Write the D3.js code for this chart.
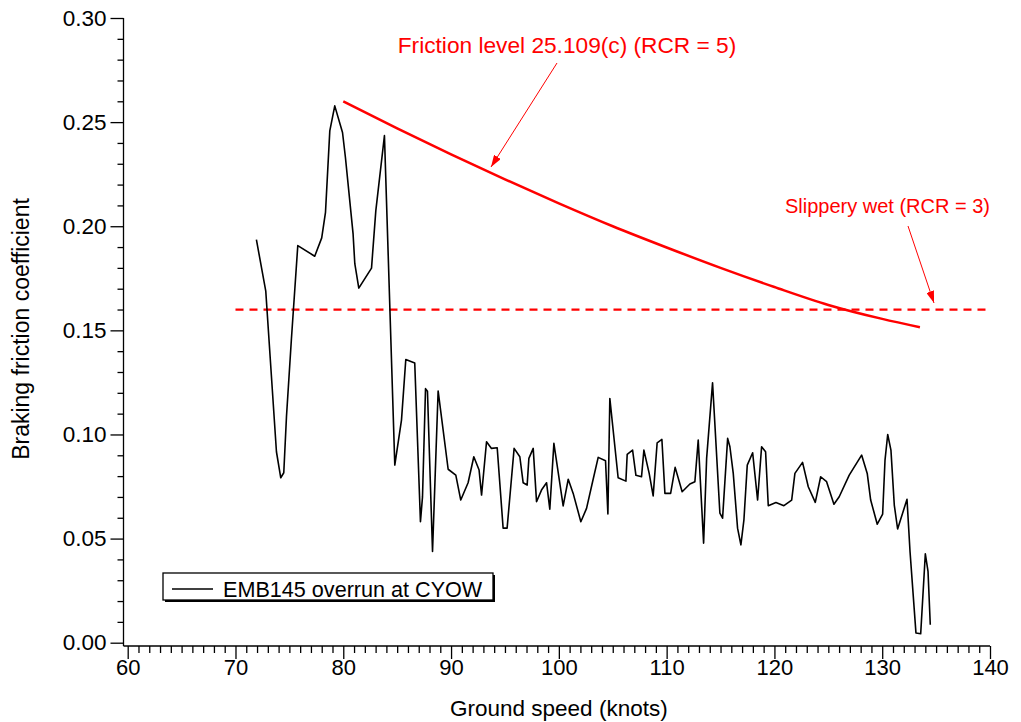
<!DOCTYPE html>
<html>
<head>
<meta charset="utf-8">
<script src="https://cdn.jsdelivr.net/npm/d3@7"></script>
<style>
	body { margin: 0; background: #fff; }
	svg text { font-family: "Liberation Sans", Arial, sans-serif; }
	.axis path, .axis line { stroke: #000; stroke-width: 1.3; }
	.axis text { font-size: 22px; fill: #000; }
</style>
</head>
<body>
<div id="chart-container"></div>
<script>
// Measured trace: ground speed (knots) vs braking friction coefficient
const speed = [71.94, 72.81, 73.80, 74.20, 74.48, 74.73, 75.19, 75.78, 77.35, 78.0, 78.35, 78.75, 79.21, 79.93, 80.2,
	80.91, 81.07, 81.44, 82.62, 83.02, 83.82, 84.78, 85.4, 85.8, 86.63, 87.16, 87.35, 87.63, 87.81, 88.28, 88.8,
	89.73, 90.44, 90.9, 91.58, 92.11, 92.6, 92.83, 93.29, 93.75, 94.28, 94.83, 95.2, 95.85, 96.38, 96.69, 97.06,
	97.22, 97.62, 97.93, 98.39, 98.86, 99.16, 99.54, 100.4, 100.87, 101.33, 102.04, 102.57, 103.13, 103.65, 104.33,
	104.55, 104.73, 105.5, 106.22, 106.34, 106.84, 107.15, 107.67, 107.89, 108.38, 108.75, 109.12, 109.56, 109.84,
	110.37, 110.79, 111.44, 112.16, 112.62, 112.93, 113.43, 113.71, 114.26, 114.94, 115.19, 115.66, 115.87, 116.18,
	116.58, 116.89, 117.17, 117.48, 117.98, 118.44, 118.81, 119.18, 119.43, 120.14, 120.88, 121.6, 121.9, 122.61,
	123.14, 123.79, 124.29, 124.84, 125.52, 126.01, 126.94, 128.09, 128.61, 128.93, 129.54, 130.04, 130.26, 130.51,
	130.81, 131.12, 131.43, 132.3, 132.58, 133.13, 133.57, 134.0, 134.25, 134.46];
const friction = [0.1936, 0.1688, 0.0917, 0.0792, 0.0816, 0.1085, 0.146, 0.1907, 0.1856, 0.1944, 0.2067, 0.2458, 0.2578, 0.245, 0.233,
	0.1963, 0.182, 0.1703, 0.1799, 0.2075, 0.2435, 0.0853, 0.1069, 0.136, 0.1343, 0.0581, 0.070, 0.122, 0.1208, 0.0438, 0.1209,
	0.0833, 0.0805, 0.0685, 0.0768, 0.0893, 0.0829, 0.0709, 0.0965, 0.0933, 0.0936, 0.055, 0.055, 0.0933, 0.0893, 0.0768, 0.0757,
	0.0885, 0.0933, 0.0677, 0.0733, 0.0768, 0.0641, 0.0957, 0.0657, 0.0785, 0.0717, 0.0581, 0.0645, 0.0773, 0.089, 0.0874,
	0.0618, 0.1173, 0.0792, 0.0776, 0.0904, 0.0925, 0.0804, 0.0797, 0.0925, 0.0813, 0.0705, 0.096, 0.0976, 0.0717,
	0.0717, 0.0842, 0.0725, 0.0762, 0.0773, 0.0973, 0.0478, 0.0885, 0.1248, 0.0622, 0.0598, 0.0981, 0.0941, 0.0813,
	0.055, 0.047, 0.059, 0.0853, 0.0912, 0.0685, 0.0941, 0.0917, 0.0658, 0.0673, 0.0658, 0.0685, 0.0813, 0.0866,
	0.0749, 0.0674, 0.0797, 0.0773, 0.0665, 0.0701, 0.0805, 0.0901, 0.0813, 0.0685, 0.0569, 0.0618, 0.0877, 0.1,
	0.0925, 0.0661, 0.0546, 0.0689, 0.0438, 0.0047, 0.0043, 0.0427, 0.0342, 0.0086];

// Friction level 25.109(c) curve
const levelSpeed = [80, 85, 90, 95, 100, 105, 110, 115, 120, 125, 130, 133.5];
const levelFriction = [0.260, 0.247, 0.2345, 0.2225, 0.211, 0.2, 0.1898, 0.18, 0.1708, 0.1622, 0.1555, 0.1515];

// Slippery wet reference line
const wetSpeed = [70, 140];
const wetFriction = [0.16, 0.16];

const xMajorTicks = [60, 70, 80, 90, 100, 110, 120, 130, 140];
const yMajorTicks = [0.00, 0.05, 0.10, 0.15, 0.20, 0.25, 0.30];

const legendLabel = 'EMB145 overrun at CYOW';
const levelLabel = 'Friction level 25.109(c) (RCR = 5)';
const wetLabel = 'Slippery wet (RCR = 3)';

const width = 1021, height = 722;
const red = '#ff0000';

const svg = d3.select('#chart-container').append('svg')
	.attr('width', width)
	.attr('height', height);

const x = d3.scaleLinear().domain([60, 140]).range([127.7, 990]);
const y = d3.scaleLinear().domain([0, 0.30]).range([642.7, 18]);
const axisX = 123.5, axisY = 646;

// x axis: minor ticks every knot, longer major ticks
const xAxisG = svg.append('g').attr('class', 'axis').attr('transform', 'translate(0,' + axisY + ')');
xAxisG.call(d3.axisBottom(x).tickValues(d3.range(60, 141, 1).filter(d => d % 10 !== 0)).tickSize(7).tickFormat(''));
xAxisG.call(g => g.select('.domain').remove());
const xMajorG = svg.append('g').attr('class', 'axis').attr('transform', 'translate(0,' + axisY + ')');
xMajorG.call(d3.axisBottom(x).tickValues(xMajorTicks).tickSize(13).tickPadding(0).tickFormat(d3.format('d')));
xMajorG.select('.domain').remove();
svg.append('line').attr('x1', axisX).attr('x2', x(140)).attr('y1', axisY).attr('y2', axisY)
	.attr('stroke', '#000').attr('stroke-width', 1.3);

// y axis
const yAxisG = svg.append('g').attr('class', 'axis').attr('transform', 'translate(' + axisX + ',0)');
yAxisG.call(d3.axisLeft(y).tickValues(d3.range(1, 30).filter(d => d % 5 !== 0).map(d => d / 100)).tickSize(6).tickFormat(''));
yAxisG.select('.domain').remove();
const yMajorG = svg.append('g').attr('class', 'axis').attr('transform', 'translate(' + axisX + ',0)');
yMajorG.call(d3.axisLeft(y).tickValues(yMajorTicks).tickSize(13).tickPadding(4).tickFormat(d3.format('.2f')));
yMajorG.select('.domain').remove();
yMajorG.selectAll('text').style('font-size', '22.5px');
svg.append('line').attr('x1', axisX).attr('x2', axisX).attr('y1', y(0.30)).attr('y2', axisY)
	.attr('stroke', '#000').attr('stroke-width', 1.3);

// axis titles
svg.append('text')
	.attr('x', x(100)).attr('y', 716)
	.attr('text-anchor', 'middle')
	.style('font-size', '22.5px')
	.text('Ground speed (knots)');
svg.append('text')
	.attr('transform', 'translate(29,' + 329 + ') rotate(-90)')
	.attr('text-anchor', 'middle')
	.style('font-size', '23px')
	.text('Braking friction coefficient');

const line = d3.line().x(d => x(d[0])).y(d => y(d[1]));

// slippery wet dashed line
svg.append('path')
	.datum(wetSpeed.map((s, i) => [s, wetFriction[i]]))
	.attr('d', line)
	.attr('fill', 'none')
	.attr('stroke', red)
	.attr('stroke-width', 2.2)
	.attr('stroke-dasharray', '8,6');

// friction level curve
svg.append('path')
	.datum(levelSpeed.map((s, i) => [s, levelFriction[i]]))
	.attr('d', d3.line().x(d => x(d[0])).y(d => y(d[1])).curve(d3.curveMonotoneX))
	.attr('fill', 'none')
	.attr('stroke', red)
	.attr('stroke-width', 2.5);

// measured trace
svg.append('path')
	.datum(speed.map((s, i) => [s, friction[i]]))
	.attr('d', line)
	.attr('fill', 'none')
	.attr('stroke', '#000')
	.attr('stroke-width', 1.6)
	.attr('stroke-linejoin', 'round');

// annotations with arrows
svg.append('defs').append('marker')
	.attr('id', 'arrow')
	.attr('viewBox', '0 0 12 8')
	.attr('refX', 12).attr('refY', 4)
	.attr('markerWidth', 12).attr('markerHeight', 8)
	.attr('markerUnits', 'userSpaceOnUse')
	.attr('orient', 'auto')
	.append('path').attr('d', 'M0,0 L12,4 L0,8 Z').attr('fill', red);

svg.append('text')
	.attr('x', 567).attr('y', 53)
	.attr('text-anchor', 'middle')
	.attr('fill', red)
	.style('font-size', '22.7px')
	.text(levelLabel);
svg.append('line')
	.attr('x1', 557).attr('y1', 63).attr('x2', 491).attr('y2', 167)
	.attr('stroke', red).attr('stroke-width', 1)
	.attr('marker-end', 'url(#arrow)');

svg.append('text')
	.attr('x', 990).attr('y', 213)
	.attr('text-anchor', 'end')
	.attr('fill', red)
	.style('font-size', '20px')
	.text(wetLabel);
svg.append('line')
	.attr('x1', 908).attr('y1', 226).attr('x2', 934).attr('y2', 303)
	.attr('stroke', red).attr('stroke-width', 1)
	.attr('marker-end', 'url(#arrow)');

// legend
const legend = svg.append('g').attr('transform', 'translate(163,573)');
legend.append('rect').attr('x', 2).attr('y', 2).attr('width', 330).attr('height', 27).attr('fill', '#000');
legend.append('rect').attr('x', 0).attr('y', 0).attr('width', 330).attr('height', 27)
	.attr('fill', '#fff').attr('stroke', '#000').attr('stroke-width', 1.3);
legend.append('line').attr('x1', 9).attr('x2', 50).attr('y1', 16).attr('y2', 16)
	.attr('stroke', '#000').attr('stroke-width', 1.5);
legend.append('text').attr('x', 60).attr('y', 23.5)
	.style('font-size', '21.6px')
	.text(legendLabel);
</script>
</body>
</html>
